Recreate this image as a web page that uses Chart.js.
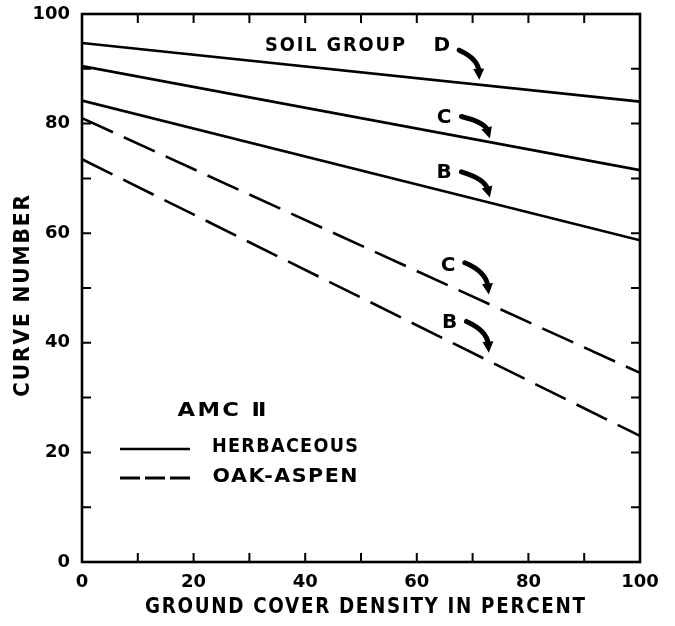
<!DOCTYPE html>
<html><head><meta charset="utf-8">
<script src="https://cdn.jsdelivr.net/npm/chart.js@4"></script>
<style>html,body{margin:0;padding:0;background:#fff}#wrap{width:675px;height:626px}</style>
</head><body><div id="wrap"><canvas id="c" width="675" height="626"></canvas></div>
<script>
// ---- data ----
const xValues = [0, 100];
const herbaceousD = [94.7, 84.0];
const herbaceousC = [90.5, 71.5];
const herbaceousB = [84.2, 58.7];
const oakAspenC = [81.0, 34.5];
const oakAspenB = [73.5, 23.0];
const xTickValues = [0, 20, 40, 60, 80, 100];
const yTickValues = [0, 20, 40, 60, 80, 100];
const xTitle = 'GROUND COVER DENSITY IN PERCENT';
const yTitle = 'CURVE NUMBER';
const groupHeading = 'SOIL GROUP';
const groupLetters = ['D', 'C', 'B', 'C', 'B'];
const legendHeading = 'AMC Ⅱ';
const legendLabels = ['HERBACEOUS', 'OAK-ASPEN'];

// ---- layout (data coordinates for annotations) ----
const notes = [
  {label:[64.5, 94.2], arrow:[[67.6,93.4],[71.0,91.8],[71.2,88.0]]},
  {label:[64.9, 81.0], arrow:[[68.0,81.3],[72.2,80.2],[73.1,77.3]]},
  {label:[64.9, 71.0], arrow:[[68.0,71.2],[72.2,69.9],[73.1,66.5]]},
  {label:[65.6, 54.1], arrow:[[68.6,54.6],[72.4,53.0],[72.9,48.8]]},
  {label:[65.9, 43.7], arrow:[[68.9,43.9],[72.6,42.2],[72.9,38.2]]}
];
const FONT = 'DejaVu Sans';

const pts = ys => xValues.map((x, i) => ({x, y: ys[i]}));
const solid = {borderColor:'#000', borderWidth:2.6, pointRadius:0, showLine:true, fill:false, tension:0};
const dashed = Object.assign({}, solid, {borderDash:[34, 12]});

// draw text in a box of given width: font chosen by cap height, squeezed horizontally
function fitText(ctx, text, cx, cy, width, size, rot, spacing) {
  ctx.save();
  ctx.font = 'bold ' + size + 'px "' + FONT + '"';
  ctx.letterSpacing = spacing + 'px';
  const w0 = ctx.measureText(text).width - spacing;
  const k = width / w0;
  ctx.translate(cx, cy);
  if (rot) ctx.rotate(rot);
  ctx.scale(k, 1);
  ctx.textAlign = 'left';
  ctx.textBaseline = 'middle';
  ctx.fillStyle = '#000';
  ctx.fillText(text, -w0 / 2, 0);
  ctx.restore();
}

const deco = {
  id: 'deco',
  afterDatasetsDraw(chart) {
    const {ctx, chartArea: a, scales: {x, y}} = chart;
    const X = v => x.getPixelForValue(v), Y = v => y.getPixelForValue(v);
    ctx.save();
    ctx.setLineDash([]);
    ctx.lineDashOffset = 0;
    ctx.strokeStyle = '#000';
    ctx.lineWidth = 2.6;
    ctx.strokeRect(a.left, a.top, a.right - a.left, a.bottom - a.top);
    ctx.lineWidth = 2;
    ctx.beginPath();
    for (let v = 10; v < 100; v += 10) {
      const px = X(v), py = Y(v);
      ctx.moveTo(px, a.bottom); ctx.lineTo(px, a.bottom - 9);
      ctx.moveTo(px, a.top); ctx.lineTo(px, a.top + 9);
      ctx.moveTo(a.left, py); ctx.lineTo(a.left + 9, py);
      ctx.moveTo(a.right, py); ctx.lineTo(a.right - 9, py);
    }
    ctx.stroke();

    // titles
    fitText(ctx, xTitle, 365, 607, 440, 22, 0, 2);
    fitText(ctx, yTitle, 23, 296, 202, 22, -Math.PI / 2, 2);

    // soil group annotations
    fitText(ctx, groupHeading, 335, 46, 140, 19, 0, 2);
    ctx.font = 'bold 20px "' + FONT + '"';
    ctx.textAlign = 'center'; ctx.textBaseline = 'middle'; ctx.fillStyle = '#000';
    notes.forEach((n, i) => {
      ctx.fillText(groupLetters[i], X(n.label[0]), Y(n.label[1]));
      const [s, c, t] = n.arrow.map(p => [X(p[0]), Y(p[1])]);
      const ang = Math.atan2(t[1] - c[1], t[0] - c[0]);
      const hl = 11;
      const e = [t[0] - Math.cos(ang) * hl * 0.8, t[1] - Math.sin(ang) * hl * 0.8];
      ctx.lineWidth = 5; ctx.lineCap = 'round';
      ctx.beginPath(); ctx.moveTo(s[0], s[1]); ctx.quadraticCurveTo(c[0], c[1], e[0], e[1]); ctx.stroke();
      const nx = Math.cos(ang + Math.PI / 2) * 5.5, ny = Math.sin(ang + Math.PI / 2) * 5.5;
      const bx = t[0] - Math.cos(ang) * hl, by = t[1] - Math.sin(ang) * hl;
      ctx.beginPath();
      ctx.moveTo(t[0], t[1]);
      ctx.lineTo(bx + nx, by + ny);
      ctx.lineTo(bx - nx, by - ny);
      ctx.closePath(); ctx.fill();
    });

    // legend
    ctx.lineCap = 'butt';
    fitText(ctx, legendHeading, 222, 411, 89, 19, 0, 2);
    fitText(ctx, legendLabels[0], 285, 447, 146, 20, 0, 1.5);
    fitText(ctx, legendLabels[1], 285, 477, 145, 20, 0, 1.5);
    ctx.lineWidth = 2.6;
    ctx.beginPath(); ctx.moveTo(120, 449); ctx.lineTo(190, 449); ctx.stroke();
    ctx.lineWidth = 3;
    [[120, 140], [145, 165], [170, 190]].forEach(([a0, a1]) => {
      ctx.beginPath(); ctx.moveTo(a0, 478); ctx.lineTo(a1, 478); ctx.stroke();
    });
    ctx.restore();
  }
};

const tickFont = {family: FONT, weight: 'bold', size: 18};
new Chart(document.getElementById('c'), {
  type: 'scatter',
  data: {datasets: [
    Object.assign({label:'D herbaceous', data: pts(herbaceousD)}, solid),
    Object.assign({label:'C herbaceous', data: pts(herbaceousC)}, solid),
    Object.assign({label:'B herbaceous', data: pts(herbaceousB)}, solid),
    Object.assign({label:'C oak-aspen', data: pts(oakAspenC)}, dashed),
    Object.assign({label:'B oak-aspen', data: pts(oakAspenB)}, dashed)
  ]},
  options: {
    responsive: false, animation: false, events: [],
    layout: {padding: {left: 0, top: 14, right: 35, bottom: 0}},
    plugins: {legend: {display: false}, tooltip: {enabled: false}},
    scales: {
      x: {type: 'linear', min: 0, max: 100,
        afterBuildTicks: s => { s.ticks = xTickValues.map(v => ({value: v})); },
        ticks: {font: tickFont, color: '#000', padding: 10, maxRotation: 0, autoSkip: false},
        grid: {display: false, drawTicks: false},
        border: {display: false},
        afterFit: s => { s.height = 64; s.paddingLeft = 0; s.paddingRight = 0; }},
      y: {type: 'linear', min: 0, max: 100,
        afterBuildTicks: s => { s.ticks = yTickValues.map(v => ({value: v})); },
        ticks: {font: tickFont, color: '#000', padding: 12, autoSkip: false},
        grid: {display: false, drawTicks: false},
        border: {display: false},
        afterFit: s => { s.width = 82; s.paddingTop = 0; s.paddingBottom = 0; }}
    }
  },
  plugins: [deco]
});
</script>
</body></html>
